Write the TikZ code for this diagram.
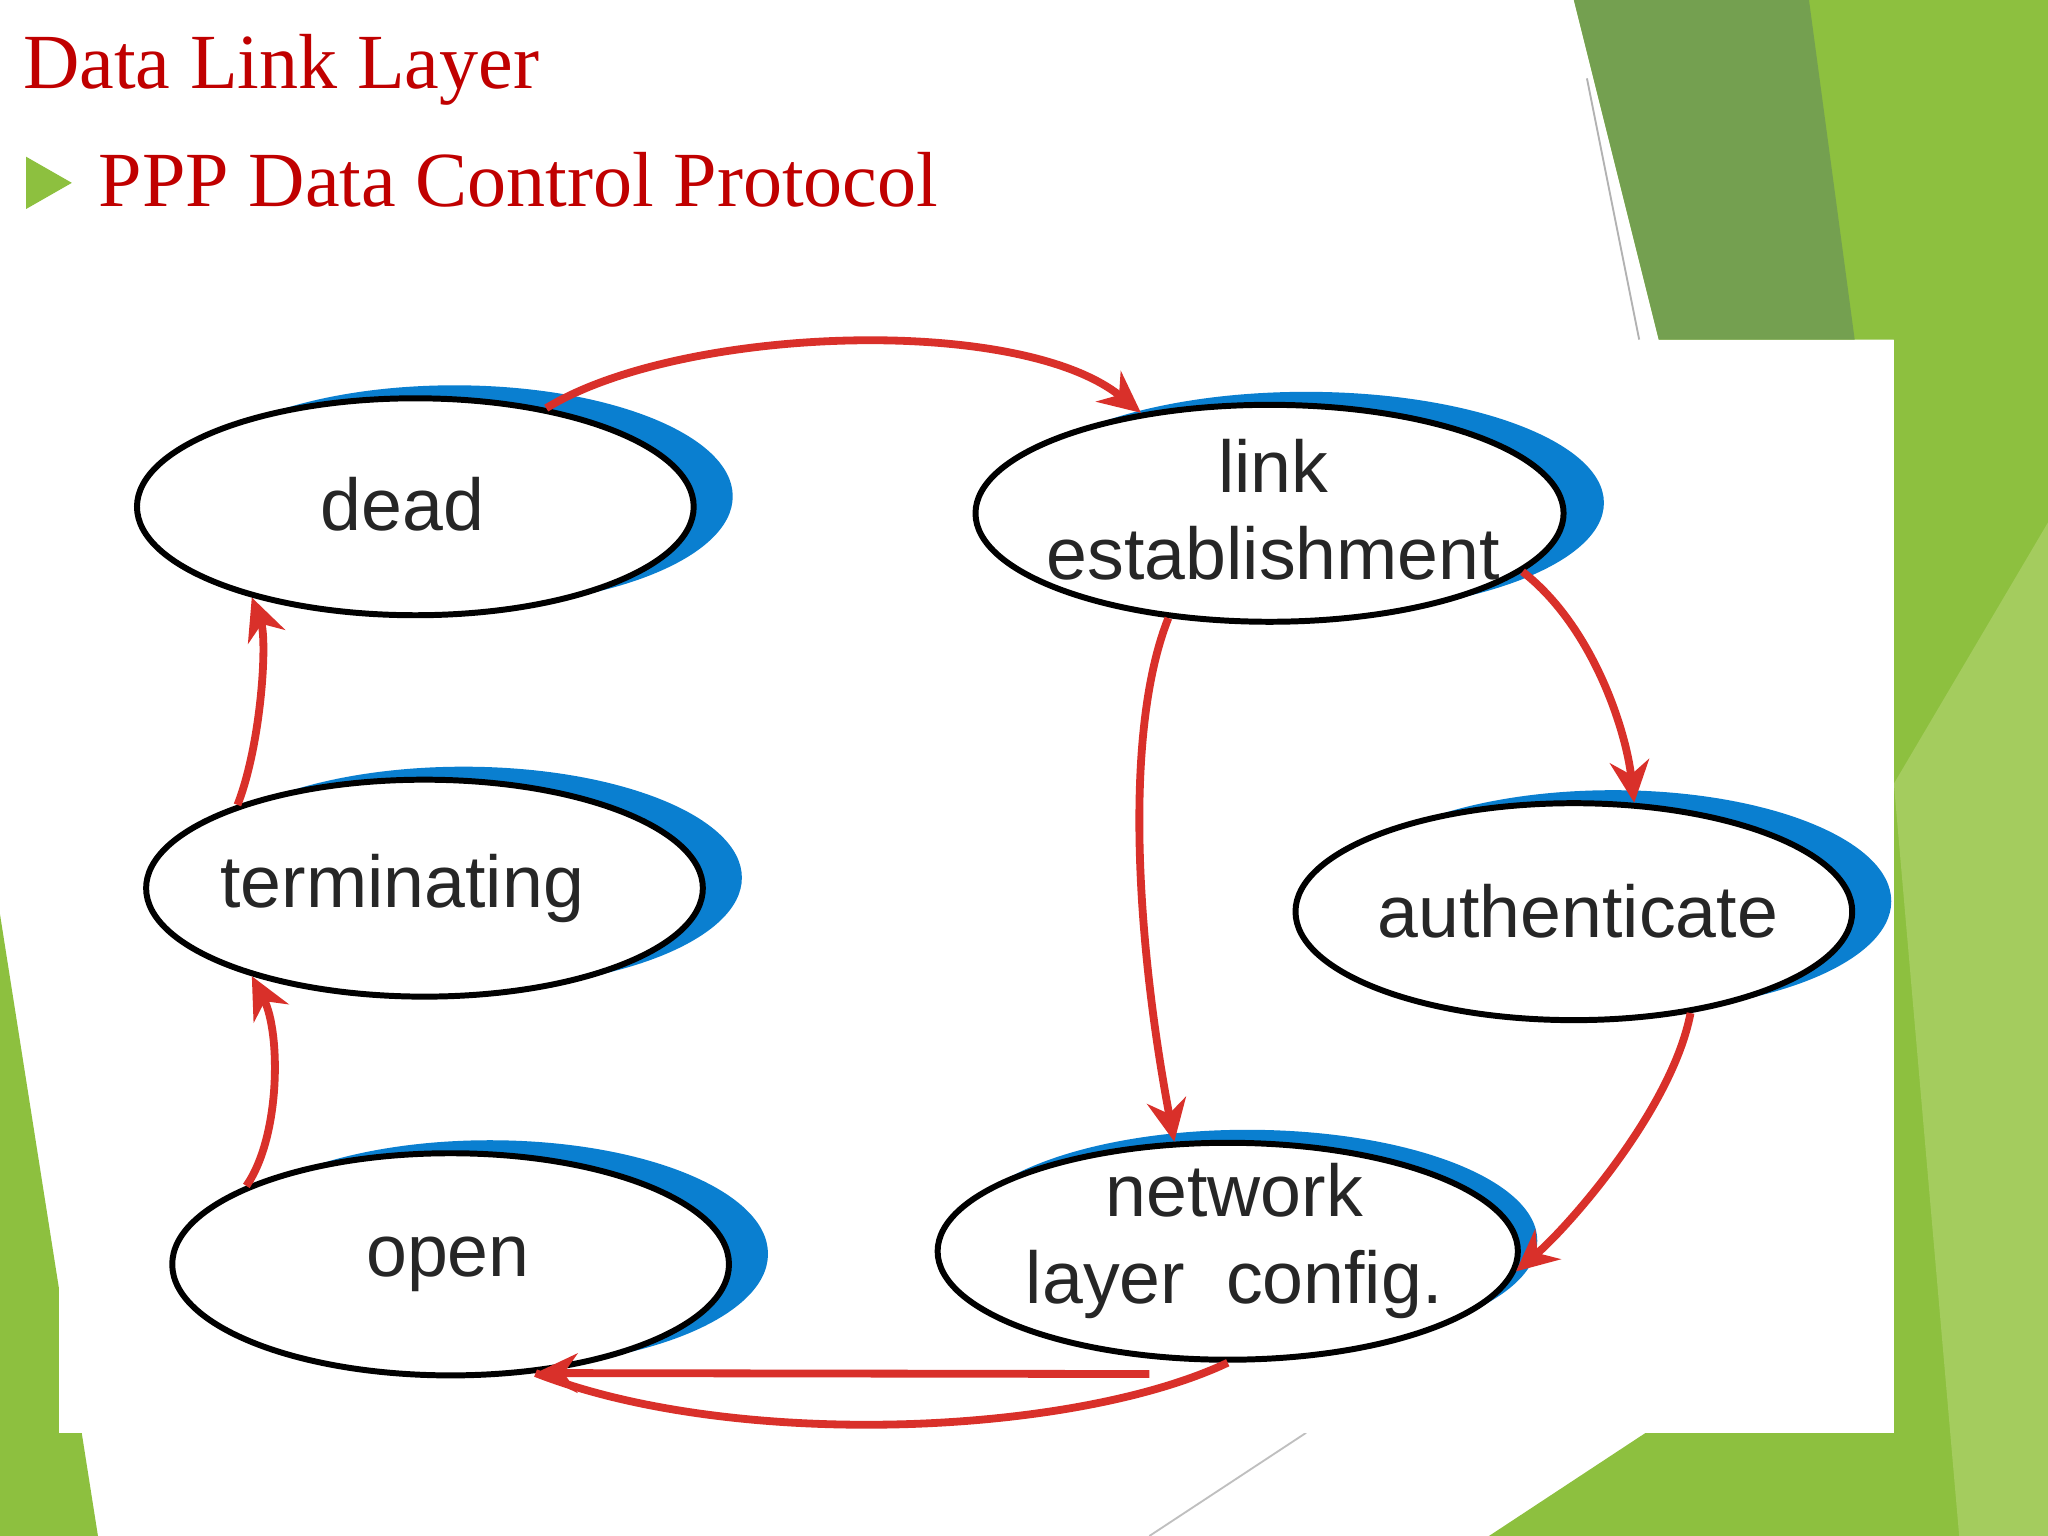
\documentclass[tikz,border=0pt]{standalone}
\usepackage{fontspec}
\setmainfont{Liberation Serif}
\newfontfamily\lbl{Liberation Sans}
\usetikzlibrary{shapes.geometric,arrows.meta}
\definecolor{tred}{HTML}{C00000}
\definecolor{ared}{HTML}{D9302A}
\definecolor{sblue}{HTML}{0A7FD0}
\definecolor{lgreen}{HTML}{8DC03F}
\definecolor{dgreen}{HTML}{74A050}
\definecolor{mgreen}{HTML}{A4CC5E}
\tikzset{
 st/.style={ellipse,draw=black,line width=1.3pt,fill=white,inner sep=0pt},
 tx/.style={font=\lbl\fontsize{16}{19}\selectfont,align=center,text=black!85,inner sep=0pt},
 sh/.style={fill=sblue},
 arr/.style={draw=ared,line width=1.7pt,-{Stealth[length=3.2mm,width=3mm]}},
}
\begin{document}
\begin{tikzpicture}[x=0.01cm,y=-0.01cm]
\useasboundingbox (0,0) rectangle (1568,1176);
\fill[white] (0,0) rectangle (1568,1176);
\fill[lgreen] (1205,0)--(1568,0)--(1568,1176)--(1140,1176)--(1260,1097)--(1450,1097)--(1450,260)--(1270,260)--cycle;
\fill[dgreen] (1205,0)--(1385,0)--(1420,260)--(1270,260)--cycle;
\fill[mgreen] (1450,600)--(1568,400)--(1568,1176)--(1500,1176)--cycle;
\fill[lgreen] (0,700)--(75,1176)--(0,1176)--cycle;
\draw[gray!60] (1215,60)--(1255,260);
\draw[gray!50] (880,1176)--(1000,1097);
\fill[white] (45,260) rectangle (1450,1097);
\node[font=\color{tred}\fontsize{17}{20}\selectfont,anchor=base west,inner sep=0pt] (t1) at (17,68) {Data Link Layer};
\fill[lgreen] (20,120)--(55,140)--(20,160)--cycle;
\node[font=\color{tred}\fontsize{17}{20}\selectfont,anchor=base west,inner sep=0pt] (t2) at (75,158) {PPP Data Control Protocol};
% shadows
\fill[sh] (348,380) ellipse [x radius=213,y radius=85];
\fill[sh] (1000,385) ellipse [x radius=228,y radius=85];
\fill[sh] (355,672) ellipse [x radius=213,y radius=85];
\fill[sh] (1235,690) ellipse [x radius=213,y radius=85];
\fill[sh] (375,960) ellipse [x radius=213,y radius=87];
\fill[sh] (955,950) ellipse [x radius=222,y radius=85];
% states
\node[st,minimum width=4.26cm,minimum height=1.66cm] (dead) at (318,388) {};
\node[st,minimum width=4.5cm,minimum height=1.66cm] (link) at (972,393) {};
\node[st,minimum width=4.26cm,minimum height=1.66cm] (term) at (325,680) {};
\node[st,minimum width=4.26cm,minimum height=1.66cm] (auth) at (1205,698) {};
\node[st,minimum width=4.26cm,minimum height=1.7cm] (open) at (345,968) {};
\node[st,minimum width=4.44cm,minimum height=1.66cm] (net) at (940,958) {};
\node[tx] (deadt) at (308,386) {dead};
\node[tx] (linkt) at (975,390) {link\\establishment};
\node[tx] (termt) at (308,680) {terminating};
\node[tx] (autht) at (1208,698) {authenticate};
\node[tx] (opent) at (343,968) {open};
\node[tx] (nett) at (945,950) {network\\layer\ \ config.};
% arrows
\draw[arr] (dead.37) .. controls (520,250) and (780,240) .. (link.142);
\draw[arr] (link.-13) .. controls (1220,480) and (1245,560) .. (auth.61);
\draw[arr] (link.-134) .. controls (860,560) and (870,720) .. (net.116);
\draw[arr] (auth.-41) .. controls (1280,850) and (1200,940) .. (net.-4);
\draw[draw=ared,line width=1.7pt] (net.-90) .. controls (820,1100) and (560,1110) .. (open.-52);
\draw[arr] (880,1052) -- (open.-52);
\draw[arr] (open.159) .. controls (215,870) and (215,790) .. (term.-153);
\draw[arr] (term.156) .. controls (200,570) and (205,490) .. (dead.-151);
\end{tikzpicture}
\end{document}
